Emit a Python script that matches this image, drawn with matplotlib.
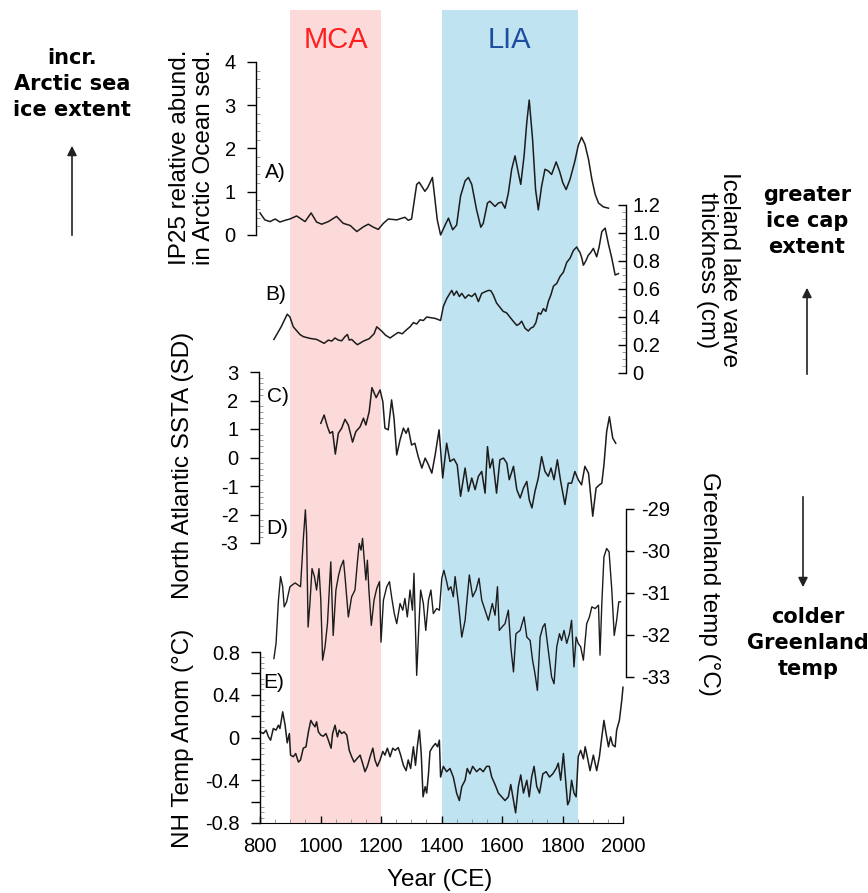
import matplotlib
matplotlib.use("Agg")
import matplotlib.pyplot as plt
from matplotlib.ticker import MultipleLocator, FuncFormatter
from matplotlib.patches import FancyArrowPatch

plt.rcParams["font.family"] = ["Liberation Sans", "DejaVu Sans"]
plt.rcParams["axes.unicode_minus"] = False

# ---------------- data ----------------
# A) IP25 relative abundance in Arctic Ocean sediments
A_year = [800, 816, 833, 850, 866, 883, 899, 921, 932, 949,
          969, 987, 1004, 1026, 1053, 1075, 1098, 1120, 1142, 1158,
          1175, 1191, 1208, 1224, 1252, 1279, 1290, 1301, 1318, 1326,
          1338, 1345, 1354, 1370, 1376, 1386, 1397, 1412, 1423, 1437,
          1450, 1463, 1478, 1489, 1500, 1516, 1530, 1538, 1552, 1560,
          1577, 1588, 1599, 1610, 1621, 1632, 1643, 1654, 1662, 1673,
          1682, 1690, 1701, 1711, 1720, 1731, 1742, 1753, 1764, 1779,
          1790, 1801, 1812, 1825, 1841, 1852, 1863, 1874, 1886, 1897,
          1908, 1919, 1935, 1952]
A_val = [0.51, 0.35, 0.31, 0.37, 0.30, 0.34, 0.37, 0.44, 0.39, 0.31,
         0.51, 0.30, 0.25, 0.31, 0.43, 0.27, 0.22, 0.08, 0.19, 0.25,
         0.18, 0.13, 0.27, 0.37, 0.35, 0.41, 0.34, 0.37, 1.17, 1.22,
         1.09, 1.01, 1.09, 1.33, 0.97, 0.35, 0.00, 0.23, 0.39, 0.12,
         0.23, 0.90, 1.25, 1.33, 1.17, 0.58, 0.18, 0.27, 0.74, 0.78,
         0.66, 0.74, 0.76, 0.62, 0.97, 1.52, 1.83, 1.44, 1.17, 1.83,
         2.61, 3.12, 2.22, 1.05, 0.58, 1.13, 1.52, 1.48, 1.40, 1.69,
         1.48, 1.21, 1.05, 1.29, 1.71, 2.07, 2.26, 2.10, 1.75, 1.29,
         0.94, 0.74, 0.65, 0.62]

# B) Iceland lake varve thickness (cm)
B_year = [846, 870, 890, 899, 910, 932, 943, 960, 971, 987,
          998, 1012, 1026, 1037, 1048, 1059, 1070, 1081, 1089, 1095,
          1103, 1114, 1122, 1142, 1161, 1177, 1186, 1202, 1215, 1230,
          1243, 1257, 1270, 1285, 1296, 1307, 1318, 1329, 1340, 1351,
          1365, 1379, 1397, 1406, 1417, 1428, 1434, 1441, 1450, 1459,
          1467, 1478, 1489, 1500, 1511, 1522, 1533, 1544, 1555, 1563,
          1571, 1582, 1593, 1604, 1615, 1626, 1637, 1649, 1657, 1665,
          1676, 1687, 1695, 1704, 1712, 1720, 1728, 1737, 1745, 1753,
          1762, 1770, 1781, 1792, 1803, 1814, 1825, 1836, 1847, 1852,
          1858, 1864, 1869, 1877, 1885, 1893, 1902, 1913, 1921, 1930,
          1941, 1952, 1963, 1974, 1985]
B_val = [0.24, 0.33, 0.42, 0.40, 0.33, 0.275, 0.26, 0.25, 0.245, 0.24,
         0.228, 0.212, 0.235, 0.228, 0.25, 0.235, 0.23, 0.26, 0.275, 0.235,
         0.24, 0.217, 0.202, 0.228, 0.245, 0.28, 0.33, 0.30, 0.27, 0.25,
         0.27, 0.29, 0.28, 0.31, 0.33, 0.36, 0.35, 0.38, 0.375, 0.40,
         0.395, 0.39, 0.375, 0.475, 0.53, 0.57, 0.59, 0.555, 0.585, 0.546,
         0.569, 0.534, 0.558, 0.546, 0.569, 0.51, 0.569, 0.58, 0.59, 0.588,
         0.558, 0.50, 0.47, 0.44, 0.43, 0.40, 0.37, 0.34, 0.35, 0.37,
         0.32, 0.30, 0.32, 0.33, 0.36, 0.43, 0.42, 0.46, 0.44, 0.51,
         0.56, 0.62, 0.64, 0.69, 0.72, 0.79, 0.82, 0.875, 0.90, 0.88,
         0.86, 0.82, 0.77, 0.80, 0.84, 0.86, 0.89, 0.83, 0.90, 1.01,
         1.035, 0.92, 0.82, 0.70, 0.71]

# C) North Atlantic SST anomaly (SD)
C_year = [1001, 1012, 1023, 1031, 1040, 1049, 1059, 1070, 1081, 1092,
          1106, 1117, 1131, 1142, 1150, 1161, 1170, 1184, 1197, 1206,
          1213, 1224, 1235, 1243, 1252, 1263, 1274, 1283, 1290, 1301,
          1312, 1323, 1335, 1346, 1357, 1368, 1379, 1392, 1404, 1417,
          1428, 1441, 1452, 1463, 1478, 1489, 1500, 1511, 1522, 1533,
          1544, 1552, 1560, 1569, 1582, 1593, 1605, 1616, 1624, 1638,
          1649, 1660, 1671, 1682, 1690, 1699, 1709, 1720, 1731, 1742,
          1753, 1762, 1772, 1783, 1794, 1808, 1819, 1830, 1841, 1852,
          1863, 1874, 1886, 1900, 1911, 1922, 1930, 1937, 1946, 1955,
          1966, 1976]
C_val = [1.20, 1.49, 1.08, 0.85, 0.91, 0.12, 0.85, 1.03, 1.34, 1.14,
         0.54, 0.91, 1.08, 1.38, 1.14, 1.61, 2.45, 2.10, 2.37, 1.96,
         1.03, 0.97, 2.02, 1.38, 0.09, 0.62, 1.03, 0.85, 1.03, 0.44,
         0.50, 0.03, -0.37, -0.02, -0.26, -0.55, 0.09, 0.97, -0.72, 0.50,
         -0.14, -0.05, -0.26, -1.36, -0.37, -1.19, -0.72, -1.13, -0.66, -0.49,
         -1.25, 0.38, -0.37, -0.05, -1.25, -0.08, -0.02, -0.20, -0.78, -0.31,
         -1.13, -1.42, -1.07, -0.84, -1.48, -1.77, -1.19, -0.72, 0.03, -0.49,
         -0.66, -0.37, -0.78, -0.08, -0.84, -1.65, -0.90, -0.90, -0.49, -0.78,
         -0.96, -0.31, -0.55, -2.06, -1.07, -0.96, -0.90, -0.26, 0.91, 1.43,
         0.68, 0.50]

# D) Greenland temperature (deg C)
D_year = [846, 853, 861, 868, 875, 880, 888, 899, 916, 934,
          943, 950, 954, 959, 965, 972, 980, 987, 995, 1001,
          1007, 1015, 1023, 1034, 1042, 1051, 1060, 1067, 1076, 1082,
          1092, 1103, 1114, 1122, 1128, 1134, 1139, 1144, 1150, 1155,
          1160, 1168, 1177, 1186, 1195, 1200, 1208, 1219, 1228, 1235,
          1244, 1252, 1263, 1272, 1279, 1287, 1296, 1304, 1309, 1318,
          1324, 1331, 1340, 1348, 1357, 1365, 1373, 1384, 1393, 1401,
          1408, 1417, 1423, 1431, 1439, 1445, 1456, 1467, 1478, 1492,
          1503, 1514, 1524, 1533, 1544, 1555, 1568, 1577, 1585, 1591,
          1600, 1610, 1621, 1629, 1638, 1646, 1660, 1673, 1682, 1693,
          1701, 1709, 1717, 1726, 1735, 1742, 1753, 1764, 1772, 1781,
          1790, 1797, 1805, 1814, 1823, 1830, 1838, 1845, 1852, 1860,
          1869, 1880, 1889, 1897, 1908, 1919, 1924, 1930, 1937, 1946,
          1954, 1963, 1971, 1979, 1986, 1992]
D_val = [-32.56, -32.20, -31.17, -30.61, -30.85, -31.33, -31.21, -30.85, -30.76, -30.85,
         -29.74, -29.02, -29.58, -31.81, -31.25, -30.42, -30.61, -30.93, -30.42, -31.17,
         -32.60, -32.28, -31.73, -30.26, -32.01, -30.93, -30.57, -30.38, -30.22, -30.69,
         -31.57, -31.09, -30.93, -30.26, -29.82, -29.98, -29.70, -30.14, -30.69, -30.22,
         -30.93, -31.77, -31.17, -30.89, -30.73, -32.17, -31.17, -30.85, -30.73, -31.09,
         -31.49, -31.73, -31.25, -31.41, -31.13, -31.57, -30.93, -31.41, -30.53, -32.96,
         -31.97, -30.93, -31.25, -31.89, -31.17, -30.93, -31.49, -31.37, -31.41, -30.65,
         -30.46, -30.73, -30.93, -30.85, -31.09, -30.61, -31.25, -32.05, -31.65, -30.57,
         -31.09, -30.93, -30.65, -31.17, -31.41, -31.65, -31.25, -31.53, -30.85, -31.89,
         -31.81, -31.73, -31.41, -32.28, -32.88, -31.97, -31.89, -31.57, -32.05, -32.13,
         -32.60, -32.92, -33.32, -32.05, -31.81, -31.73, -32.36, -33.00, -33.16, -32.28,
         -31.97, -32.13, -31.89, -32.20, -31.97, -31.65, -32.76, -32.05, -32.20, -32.28,
         -32.60, -31.73, -31.57, -31.33, -31.37, -31.29, -32.48, -31.25, -30.14, -29.94,
         -30.02, -30.93, -32.01, -31.65, -31.21, -31.21]

# E) Northern Hemisphere temperature anomaly (deg C)
E_year = [800, 811, 820, 828, 835, 844, 853, 861, 866, 875,
          883, 890, 897, 901, 910, 918, 927, 934, 943, 952,
          960, 968, 974, 982, 987, 993, 1001, 1009, 1018, 1026,
          1035, 1040, 1048, 1056, 1062, 1070, 1078, 1087, 1095, 1103,
          1111, 1120, 1131, 1139, 1147, 1155, 1164, 1173, 1180, 1188,
          1197, 1206, 1213, 1221, 1230, 1239, 1247, 1257, 1265, 1274,
          1283, 1290, 1298, 1307, 1314, 1320, 1327, 1333, 1339, 1346,
          1351, 1357, 1362, 1371, 1380, 1387, 1393, 1397, 1406, 1417,
          1428, 1439, 1450, 1459, 1467, 1478, 1485, 1494, 1503, 1516,
          1527, 1538, 1549, 1558, 1566, 1577, 1588, 1599, 1610, 1621,
          1629, 1638, 1645, 1654, 1662, 1671, 1682, 1690, 1698, 1706,
          1715, 1724, 1735, 1746, 1757, 1768, 1779, 1786, 1794, 1803,
          1812, 1817, 1823, 1830, 1838, 1845, 1852, 1860, 1869, 1875,
          1882, 1891, 1902, 1913, 1922, 1930, 1937, 1944, 1952, 1959,
          1966, 1974, 1979, 1988, 1996, 2000]
E_val = [0.053, 0.037, 0.069, 0.006, -0.025, 0.084, 0.069, 0.115, 0.084, 0.24,
         0.115, -0.05, 0.037, -0.165, -0.18, -0.15, -0.23, -0.21, -0.10, -0.087,
         0.053, 0.16, 0.13, 0.10, 0.147, 0.053, 0.022, 0.012, 0.037, -0.025,
         -0.10, 0.037, 0.115, 0.006, 0.069, 0.037, 0.053, 0.022, -0.12, -0.18,
         -0.23, -0.20, -0.165, -0.24, -0.32, -0.27, -0.18, -0.10, -0.21, -0.27,
         -0.21, -0.13, -0.165, -0.10, -0.18, -0.10, -0.12, -0.094, -0.165, -0.26,
         -0.31, -0.21, -0.29, -0.087, -0.26, -0.087, 0.069, -0.15, -0.555, -0.46,
         -0.52, -0.34, -0.13, -0.087, -0.056, -0.087, -0.025, -0.37, -0.27, -0.32,
         -0.29, -0.37, -0.52, -0.59, -0.46, -0.40, -0.29, -0.34, -0.27, -0.32,
         -0.29, -0.32, -0.27, -0.27, -0.37, -0.44, -0.52, -0.555, -0.59, -0.555,
         -0.44, -0.59, -0.705, -0.46, -0.35, -0.52, -0.40, -0.555, -0.37, -0.27,
         -0.46, -0.52, -0.34, -0.32, -0.37, -0.34, -0.29, -0.24, -0.40, -0.15,
         -0.46, -0.63, -0.59, -0.40, -0.52, -0.555, -0.18, -0.12, -0.20, -0.087,
         -0.18, -0.31, -0.165, -0.31, -0.18, 0.006, 0.16, 0.037, -0.087, 0.006,
         -0.07, -0.087, 0.069, 0.16, 0.35, 0.47]

# climate periods (CE)
MCA_span = (900, 1200)
LIA_span = (1400, 1850)

# ---------------- figure ----------------
W, H = 868, 893
fig = plt.figure(figsize=(W / 100, H / 100), dpi=100)
LINE = "#1c1c1c"
TICK_FS = 14.5
LABEL_FS = 17.5
X0, X1 = 260, 623          # pixel columns of years 800 and 2000


def fx(x):
    return x / W


def fy(y):
    return 1 - y / H


def year_px(year):
    return X0 + (year - 800) * (X1 - X0) / 1200


def px_axes(ytop, ybot):
    ax = fig.add_axes([X0 / W, 1 - ybot / H, (X1 - X0) / W, (ybot - ytop) / H])
    ax.set_facecolor("none")
    ax.set_xlim(800, 2000)
    for s in ax.spines.values():
        s.set_visible(False)
    ax.tick_params(axis="x", which="both", bottom=False, labelbottom=False)
    ax.tick_params(axis="y", which="both", left=False, labelleft=False,
                   right=False, labelright=False)
    return ax


def left_axis(ax, lo, hi, major, minor, fmt, outward=0):
    ax.set_ylim(lo, hi)
    ax.spines["left"].set_visible(True)
    ax.spines["left"].set_linewidth(1.0)
    ax.spines["left"].set_position(("outward", outward))
    ax.yaxis.set_major_locator(MultipleLocator(major))
    if minor:
        ax.yaxis.set_minor_locator(MultipleLocator(minor))
    ax.yaxis.set_major_formatter(FuncFormatter(fmt))
    ax.tick_params(axis="y", which="major", left=True, labelleft=True,
                   direction="out", length=6.5, width=1.0, pad=8,
                   labelsize=TICK_FS)
    ax.tick_params(axis="y", which="minor", left=True, direction="in",
                   length=3, width=0.6, color="#8a8a8a")


def right_axis(ax, lo, hi, major, minor, fmt, direction, outward=2):
    ax.set_ylim(lo, hi)
    ax.spines["right"].set_visible(True)
    ax.spines["right"].set_linewidth(1.0)
    ax.spines["right"].set_position(("outward", outward))
    ax.yaxis.set_major_locator(MultipleLocator(major))
    if minor:
        ax.yaxis.set_minor_locator(MultipleLocator(minor))
    ax.yaxis.set_major_formatter(FuncFormatter(fmt))
    ax.tick_params(axis="y", which="major", right=True, labelright=True,
                   direction=direction, length=6, width=1.0, pad=5,
                   labelsize=TICK_FS)
    ax.tick_params(axis="y", which="minor", right=True, direction="in",
                   length=3, width=0.6, color="#8a8a8a")


# shaded climate periods behind every panel
bg = fig.add_axes([fx(X0), fy(823), (X1 - X0) / W, (823 - 10) / H])
bg.set_xlim(800, 2000)
bg.set_ylim(0, 1)
bg.axis("off")
bg.axvspan(*MCA_span, color="#fddada", lw=0, zorder=0)
bg.axvspan(*LIA_span, color="#c0e3f2", lw=0, zorder=0)
fig.text(fx(year_px(sum(MCA_span) / 2)), fy(40), "MCA",
         color="#ff1f1f", fontsize=21, ha="center", va="center")
fig.text(fx(year_px(sum(LIA_span) / 2)), fy(40), "LIA",
         color="#1d4d9e", fontsize=21, ha="center", va="center")

# A) IP25
axA = px_axes(62, 235)
left_axis(axA, 0, 4, 1, 0.2, lambda v, p: f"{v:.0f}", outward=3)
axA.plot(A_year, A_val, color=LINE, lw=1.1, clip_on=False)

# B) Iceland varves
axB = px_axes(205, 373)
right_axis(axB, 0, 1.2, 0.2, 0.05,
           lambda v, p: "0" if abs(v) < 1e-9 else f"{v:.1f}", "in")
axB.plot(B_year, B_val, color=LINE, lw=1.1, clip_on=False)

# C) North Atlantic SSTA
axC = px_axes(372, 543)
left_axis(axC, -3, 3, 1, 0.2, lambda v, p: f"{v:.0f}", outward=1)
axC.plot(C_year, C_val, color=LINE, lw=1.1, clip_on=False)

# D) Greenland temperature
axD = px_axes(509, 677)
right_axis(axD, -33, -29, 1, None, lambda v, p: f"{v:.0f}", "out")
axD.plot(D_year, D_val, color=LINE, lw=1.0, clip_on=False)

# E) NH temperature anomaly, carries the shared time axis
axE = px_axes(652, 823)
left_axis(axE, -0.8, 0.8, 0.2, 0.05,
          lambda v, p: ("0" if abs(v) < 1e-9 else f"{v:.1f}")
          if abs(round(v / 0.4) * 0.4 - v) < 1e-6 else "")
axE.spines["bottom"].set_visible(True)
axE.xaxis.set_major_locator(MultipleLocator(200))
axE.xaxis.set_minor_locator(MultipleLocator(50))
axE.tick_params(axis="x", which="major", bottom=True, labelbottom=True,
                direction="in", length=5, width=1.0, pad=10, labelsize=TICK_FS)
axE.tick_params(axis="x", which="minor", bottom=True, direction="in",
                length=3, width=0.6, color="#8a8a8a")
axE.plot(E_year, E_val, color=LINE, lw=1.1, clip_on=False)

# panel letters
for lab, (x, y) in {"A)": (275, 172), "B)": (276, 295), "C)": (278, 396),
                    "D)": (277, 528), "E)": (274, 683)}.items():
    fig.text(fx(x), fy(y), lab, fontsize=15, ha="center", va="center")

# axis titles
fig.text(fx(192), fy(157), "IP25 relative abund.\nin Arctic Ocean sed.",
         rotation=90, fontsize=LABEL_FS, ha="center", va="center",
         multialignment="center", linespacing=1.1)
fig.text(fx(718), fy(270), "Iceland lake varve\nthickness (cm)",
         rotation=270, fontsize=LABEL_FS, ha="center", va="center",
         multialignment="center", linespacing=1.05)
fig.text(fx(183), fy(465), "North Atlantic SSTA (SD)", rotation=90,
         fontsize=LABEL_FS, ha="center", va="center")
fig.text(fx(709), fy(584), "Greenland temp (\u00b0C)", rotation=270,
         fontsize=LABEL_FS, ha="center", va="center")
fig.text(fx(183), fy(738), "NH Temp Anom (\u00b0C)", rotation=90,
         fontsize=LABEL_FS, ha="center", va="center")
fig.text(fx(440), fy(880), "Year (CE)", fontsize=LABEL_FS,
         ha="center", va="center")

# side annotations
note_kw = dict(fontsize=15, fontweight="bold", ha="center", va="center",
               multialignment="center", linespacing=1.4,
               family=["DejaVu Sans"])
fig.text(fx(72), fy(84), "incr.\nArctic sea\nice extent", **note_kw)
fig.text(fx(807), fy(221), "greater\nice cap\nextent", **note_kw)
fig.text(fx(808), fy(643), "colder\nGreenland\ntemp", **note_kw)


def arrow(x, y0, y1):
    fig.patches.append(FancyArrowPatch(
        (fx(x), fy(y0)), (fx(x), fy(y1)), transform=fig.transFigure,
        arrowstyle="-|>", mutation_scale=14, lw=1.2, color="#222222"))


arrow(72, 238, 143)
arrow(807, 377, 285)
arrow(803, 494, 590)

fig.savefig("out.png", dpi=100)
